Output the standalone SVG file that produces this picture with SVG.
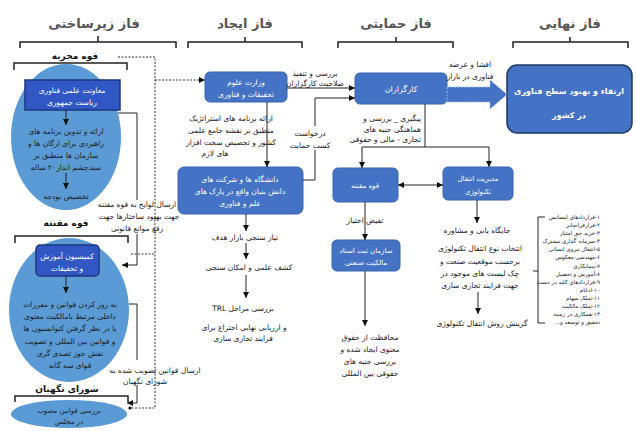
<svg xmlns="http://www.w3.org/2000/svg" width="636" height="431" viewBox="0 0 636 431">
<style>
text{font-family:"DejaVu Sans","Noto Sans",sans-serif;direction:rtl;text-anchor:middle;fill:#1a1a1a;font-size:7.5px}
.h{font-size:13px;font-weight:bold;fill:#555}
.b{font-weight:bold;font-size:9px;fill:#111}
.w{fill:#fff}
.wb{fill:#fff;font-weight:bold;font-size:8px}
.s{font-size:5.6px;text-anchor:start}
.r{text-anchor:start}
.br{fill:none;stroke:#222;stroke-width:1.5}
.ln{fill:none;stroke:#222;stroke-width:1}
.dt{fill:none;stroke:#333;stroke-width:1;stroke-dasharray:2 1.5}
.ell{fill:#5b9bd5}
.dk{fill:#3057c4;stroke:#1d347f;stroke-width:1.5}
.bx{fill:#4472c4;stroke:#3b64b3;stroke-width:1}
</style>
<defs>
<marker id="ah" viewBox="0 0 10 10" refX="10" refY="5" markerWidth="6" markerHeight="6" orient="auto-start-reverse" markerUnits="userSpaceOnUse"><path d="M0,0 L10,5 L0,10 z" fill="#111"/></marker>
</defs>

<!-- headings and brackets -->
<g id="headings">
<text class="h" x="94" y="28">فاز زیرساختی</text>
<text class="h" x="245" y="28">فاز ایجاد</text>
<text class="h" x="396" y="28">فاز حمایتی</text>
<text class="h" x="570" y="28">فاز نهایی</text>
<path class="br" d="M20,48 V42 H176 V48 M98,42 V36"/>
<path class="br" d="M188,48 V42 H302 V48 M245,42 V37"/>
<path class="br" d="M338,48 V42 H453 V48 M396,42 V37"/>
<path class="br" d="M513,48 V42 H628 V48 M570,42 V37"/>
</g>

<!-- executive -->
<g id="executive">
<text class="b" x="75" y="59">قوه مجریه</text>
<path class="br" d="M14,70 V63 H127 V70"/>
<ellipse class="ell" cx="66" cy="137" rx="55" ry="73"/>
<rect class="dk" x="25" y="80" width="95" height="30"/>
<text class="w" x="72" y="93">معاونت علمی فناوری</text>
<text class="w" x="72" y="105">ریاست جمهوری</text>
<text x="66" y="134">ارائه و تدوین برنامه های</text>
<text x="66" y="146">راهبردی برای ارگان ها و</text>
<text x="66" y="158">سازمان ها منطبق بر</text>
<text x="66" y="170">سندچشم انداز۲۰ ساله</text>
<text x="66" y="199">تخصیص بودجه</text>
</g>

<!-- legislative -->
<g id="legislative">
<text class="b" x="66" y="226">قوه مقننه</text>
<path class="br" d="M15,243 V236 H128 V243"/>
<ellipse class="ell" cx="69" cy="310" rx="60" ry="72"/>
<rect class="dk" x="36" y="245" width="63" height="31" rx="4"/>
<text class="w" x="67" y="259">کمیسیون آموزش</text>
<text class="w" x="67" y="271">و تحقیقات</text>
<text x="70" y="307">به روز کردن قوانین و مقررات</text>
<text x="70" y="319">داخلی مرتبط بامالکیت معنوی</text>
<text x="70" y="331">با در نظر گرفتن کنوانسیون ها</text>
<text x="70" y="344">و قوانین بین المللی و تصویب</text>
<text x="70" y="356">نقش حوز تصدی گری</text>
<text x="70" y="368">قوای سه گانه</text>
</g>

<!-- guardian council -->
<g id="guardian">
<text class="b" x="67" y="392">شورای نگهبان</text>
<path class="br" d="M15,402 V396 H128 V402"/>
<ellipse class="ell" cx="69" cy="414" rx="58" ry="14"/>
<text x="69" y="413" style="font-size:7px">بررسی  قوانین مصوب</text>
<text x="69" y="424" style="font-size:7px">در مجلس</text>
</g>

<!-- ijad -->
<g id="ministry">
<rect class="bx" x="205" y="72" width="82" height="30" rx="5"/>
<text class="w" x="246" y="85">وزارت علوم</text>
<text class="w" x="246" y="97">تحقیقات و فناوری</text>
</g>
<g id="universities">
<rect class="bx" x="178" y="167" width="125" height="47" rx="6"/>
<text class="w" x="240" y="182">دانشگاه ها و شرکت های</text>
<text class="w" x="240" y="194">دانش بنیان واقع در پارک های</text>
<text class="w" x="240" y="206">علم و فناوری</text>
</g>
<g id="ijad-texts">
<text x="231" y="121">ارائه برنامه های استراتژیک</text>
<text x="231" y="133">منطبق بر نقشه جامع علمی</text>
<text x="231" y="145">کشور و تخصیص سخت افزار</text>
<text x="215" y="156">های لازم</text>
<text x="245" y="240">نیاز سنجی بازار هدف</text>
<text x="249" y="270">کشف علمی و امکان سنجی</text>
<text x="243" y="311">بررسی  مراحل TRL</text>
<text x="244" y="330">و ارزیابی نهایی اختراع برای</text>
<text x="243" y="341">فرایند تجاری سازی</text>
</g>

<!-- himayati -->
<g id="brokers">
<rect class="bx" x="355" y="73" width="92" height="31" rx="5"/>
<text class="w" x="401" y="92" style="font-size:8px">کارگزاران</text>
</g>
<g id="parliament">
<rect class="bx" x="333" y="168" width="65" height="34" rx="5"/>
<text class="w" x="365" y="188" style="font-size:7px">قوه مقننه</text>
</g>
<g id="registry">
<rect class="bx" x="332" y="240" width="68" height="31" rx="5"/>
<text class="w" x="366" y="253" style="font-size:7px">سازمان ثبت اسناد</text>
<text class="w" x="366" y="265" style="font-size:7px">مالکیت صنعتی</text>
</g>
<g id="tech-transfer">
<rect class="bx" x="443" y="167" width="70" height="33" rx="5"/>
<text class="w" x="478" y="181" style="font-size:7px">مدیریت انتقال</text>
<text class="w" x="478" y="194" style="font-size:7px">تکنولوژی</text>
</g>
<g id="himayati-texts">
<text class="r" x="421" y="121">پیگیری _ بررسی و</text>
<text class="r" x="421" y="132">هماهنگی جنبه های</text>
<text class="r" x="421" y="142">تجاری - مالی و حقوقی</text>
<text x="370" y="340">محافظت از حقوق</text>
<text x="370" y="352">معنوی ایجاد شده و</text>
<text x="370" y="364">بررسی جنبه های</text>
<text x="370" y="376">حقوقی بین المللی</text>
<text x="477" y="233">جایگاه یابی و مشاوره</text>
<text x="480" y="251">انتخاب نوع انتقال تکنولوژی</text>
<text x="480" y="264">برحسب موقعیت صنعت و</text>
<text x="480" y="276">چک لیست های موجود در</text>
<text x="480" y="288">جهت فرایند تجاری سازی</text>
<text x="482" y="326">گزینش روش انتقال تکنولوژی</text>
</g>
<g id="methods">
<path class="ln" d="M545,217 H538 V323 H545 M538,271 H533"/>
<text class="s" x="600" y="219">۱-قراردادهای لیسانس</text>
<text class="s" x="600" y="227">۲-قرارفرانچایز</text>
<text class="s" x="600" y="235">۳-خرید حق امتیاز</text>
<text class="s" x="600" y="243">۴-سرمایه گذاری مشترک</text>
<text class="s" x="600" y="251">۵-انتقال نیروی انسانی</text>
<text class="s" x="600" y="259">۶-مهندسی معکوس</text>
<text class="s" x="600" y="268">۷-پیمانکاری</text>
<text class="s" x="600" y="276">۸-آموزش و تحصیل</text>
<text class="s" x="600" y="284">۹-قراردادهای کلید در دست</text>
<text class="s" x="600" y="292">۱۰-ادغام</text>
<text class="s" x="600" y="300">۱۱-تملک سهام</text>
<text class="s" x="600" y="308">۱۲-تملک مالکیت</text>
<text class="s" x="600" y="316">۱۳-همکاری در زمینه</text>
<text class="s" x="600" y="324">تحقیق و توسعه و...</text>
</g>

<!-- final -->
<g id="final">
<rect x="507" y="65" width="125" height="68" rx="10" fill="#4472c4" stroke="#1f3864" stroke-width="1.5"/>
<text class="wb" x="569" y="94">ارتقاء و بهبود سطح فناوری</text>
<text class="wb" x="569" y="118">در کشور</text>
</g>

<!-- connectors -->
<g id="connectors">
<path class="ln" marker-end="url(#ah)" d="M66,110 V125"/>
<path class="ln" marker-end="url(#ah)" d="M66,173 V189"/>
<path class="ln" d="M118,113 H137 V200"/>
<path class="ln" marker-end="url(#ah)" d="M137,234 V265 H122"/>
<path class="ln" marker-end="url(#ah)" d="M66,276 V293"/>
<path class="ln" d="M129,304 H137 V360"/>
<path class="ln" marker-end="url(#ah)" d="M137,385 V403 H127"/>
<path class="dt" d="M118,57 H155 V408 H131"/>
<circle cx="130" cy="408" r="1.6" fill="#111"/>
<path class="dt" d="M131,254 H155"/>
<path class="dt" marker-end="url(#ah)" d="M155,80 H205"/>

<path class="ln" marker-end="url(#ah)" d="M267,102 V167"/>
<path class="ln" marker-end="url(#ah)" d="M287,88 H355"/>
<path class="ln" d="M303,180 H315 V150"/>
<path class="ln" marker-end="url(#ah)" d="M315,126 V98 H355"/>
<path class="ln" marker-end="url(#ah)" d="M246,214 V231"/>
<path class="ln" marker-end="url(#ah)" d="M246,243 V259"/>
<path class="ln" marker-end="url(#ah)" d="M246,275 V298"/>

<path class="ln" d="M425,104 V147 M362,147 H489"/>
<path class="ln" marker-end="url(#ah)" d="M362,147 V168"/>
<path class="ln" marker-end="url(#ah)" d="M489,147 V167"/>
<path class="ln" marker-start="url(#ah)" marker-end="url(#ah)" d="M398,185 H443"/>
<path class="ln" marker-end="url(#ah)" d="M365,202 V240"/>
<path class="ln" marker-end="url(#ah)" d="M365,271 V326"/>
<path class="ln" marker-end="url(#ah)" d="M477,200 V223"/>
<path class="ln" marker-end="url(#ah)" d="M478,292 V314"/>
<path d="M447,87 H490 V80 L507,94.5 L490,109 V102 H447 Z" fill="#4472c4" stroke="#9dc3e6" stroke-width="1" stroke-dasharray="2 1.5"/>
</g>

<g id="labels">
<text x="137" y="207">ارسال لوایح به قوه مقننه</text>
<text x="139" y="219">جهت بهبود ساختارها جهت</text>
<text x="137" y="231">رفع موانع قانونی</text>
<text x="155" y="373">ارسال قوانین تصویب شده به</text>
<text x="145" y="384">شورای نگهبان</text>
<text x="315" y="76">بررسی و تنفیذ</text>
<text x="315" y="86">صلاحیت کارگزاران</text>
<text x="310" y="136">درخواست</text>
<text x="310" y="148">کسب حمایت</text>
<text x="470" y="67">افشا و عرضه</text>
<text x="470" y="79">فناوری در بازار</text>
<text x="365" y="223">تفیض اختیار</text>
</g>
</svg>
